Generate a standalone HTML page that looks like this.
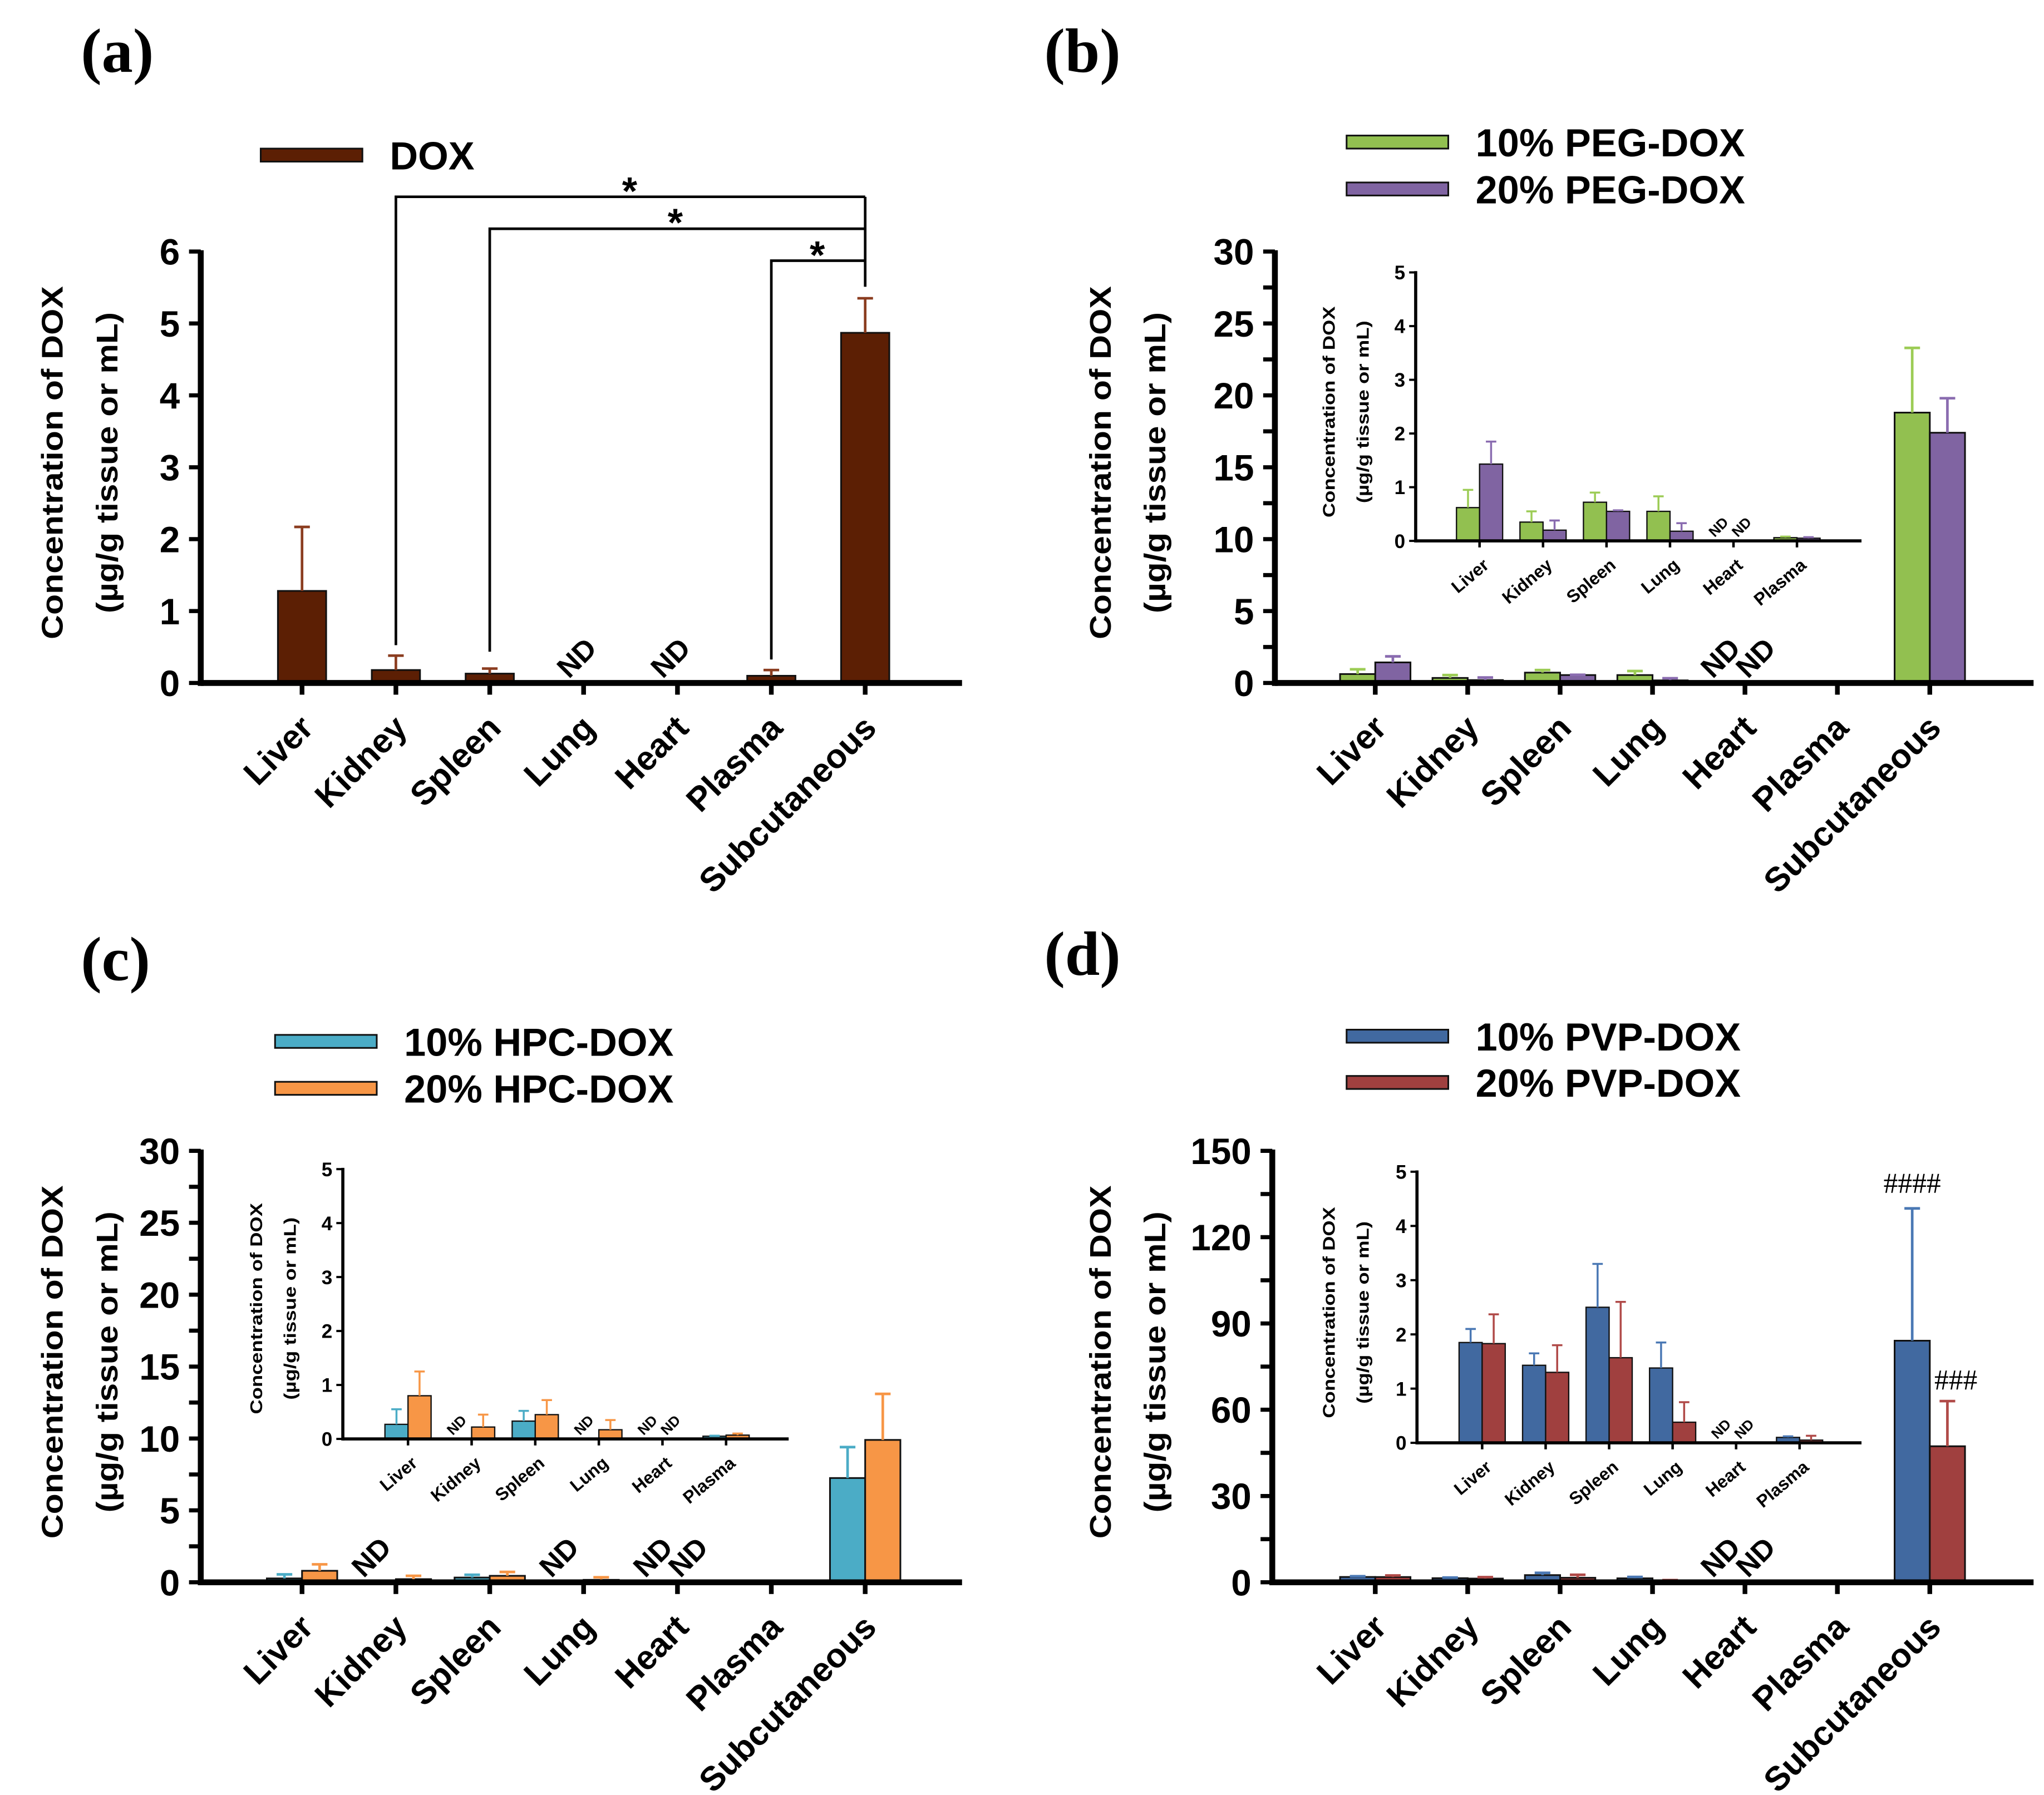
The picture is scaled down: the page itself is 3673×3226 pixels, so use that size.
<!DOCTYPE html>
<html><head><meta charset="utf-8"><style>
html,body{margin:0;padding:0;background:#fff;}
svg{display:block;}
</style></head><body>
<svg id="fig" xmlns="http://www.w3.org/2000/svg" width="3673" height="3226" viewBox="0 0 1568 1377.2" preserveAspectRatio="none" font-family="Liberation Sans, Arial, sans-serif"></svg>
<script>
// ---------- data ----------
const categories = ["Liver","Kidney","Spleen","Lung","Heart","Plasma","Subcutaneous"];
const insetCategories = ["Liver","Kidney","Spleen","Lung","Heart","Plasma"];
// panel a (DOX)
const doxMean = [1.28, 0.18, 0.13, null, null, 0.10, 4.87];
const doxErr  = [2.17, 0.38, 0.20, null, null, 0.18, 5.35];
// panel b (PEG)
const peg10Mean = [0.62, 0.35, 0.72, 0.55, null, 0.06, 18.8];
const peg10Err  = [0.95, 0.55, 0.90, 0.83, null, 0.08, 23.3];
const peg20Mean = [1.43, 0.20, 0.55, 0.18, null, 0.05, 17.4];
const peg20Err  = [1.85, 0.38, 0.57, 0.33, null, 0.07, 19.8];
// panel c (HPC)
const hpc10Mean = [0.27, null, 0.33, null, null, 0.05, 7.25];
const hpc10Err  = [0.55, null, 0.52, null, null, 0.06, 9.4];
const hpc20Mean = [0.80, 0.22, 0.45, 0.17, null, 0.07, 9.9];
const hpc20Err  = [1.25, 0.45, 0.72, 0.35, null, 0.10, 13.1];
// panel d (PVP)
const pvp10Mean = [1.85, 1.43, 2.50, 1.38, null, 0.10, 84];
const pvp10Err  = [2.10, 1.65, 3.30, 1.85, null, 0.12, 130];
const pvp20Mean = [1.83, 1.30, 1.57, 0.38, null, 0.05, 47.3];
const pvp20Err  = [2.37, 1.80, 2.60, 0.75, null, 0.13, 63];
const yTicksA = [0,1,2,3,4,5,6];
const yTicks30 = [0,5,10,15,20,25,30];
const yTicks150 = [0,30,60,90,120,150];
const yTicksInset = [0,1,2,3,4,5];

const NS="http://www.w3.org/2000/svg";
const svg=document.getElementById('fig');
function el(tag,attrs,parent,txt){const e=document.createElementNS(NS,tag);for(const k in attrs)e.setAttribute(k,attrs[k]);if(txt!==undefined)e.textContent=txt;(parent||svg).appendChild(e);return e;}

function drawChart(cfg){
  const g=el('g',{});
  
  
  const ymax=cfg.ticks[cfg.ticks.length-1];
  const yS=v=>cfg.y0-(v/ymax)*(cfg.y0-cfg.yTop);
  const xS=i=>cfg.x1+i*cfg.sp;
  const ns=cfg.series.length;
  cfg.series.forEach((s,si)=>{
    cfg.cats.forEach((c,i)=>{
      const v=s.mean[i]; if(v===null||v===undefined)return;
      const bx = ns===1 ? xS(i)-cfg.bw/2 : xS(i)+(si===0?-cfg.bw:0);
      const by=yS(v);
      const r=el('rect',{x:bx,y:by,width:cfg.bw,height:Math.max(cfg.y0-by,0.5),fill:s.color,stroke:'#111','stroke-width':cfg.inset?1:1.3},g);
      
      
      const e=s.err[i];
      if(e!==null&&e!==undefined){
        const cx=bx+cfg.bw/2, ey=yS(e);
        const eg=el('g',{stroke:s.ecolor,'stroke-width':cfg.inset?1.5:2},g);
        
        
        el('line',{x1:cx,x2:cx,y1:by,y2:ey},eg);
        el('line',{x1:cx-cfg.cap,x2:cx+cfg.cap,y1:ey,y2:ey},eg);
      }
    });
  });
  (cfg.nd||[]).forEach(([si,i])=>{
    const cx = ns===1 ? xS(i) : xS(i)+(si===0?-cfg.bw/2:cfg.bw/2);
    const t=el('text',{x:cx,y:cfg.y0-cfg.ndOff,'font-size':cfg.ndSize,'font-weight':'bold','text-anchor':'middle',transform:`rotate(-45 ${cx} ${cfg.y0-cfg.ndOff})`},g,'ND');
    
    
  });
  const aw=cfg.inset?2.4:4.5;
  const ya=el('line',{x1:cfg.ax0,x2:cfg.ax0,y1:cfg.yTop-1,y2:cfg.y0+aw/2,stroke:'#000','stroke-width':aw},g);
  
  
  const xa=el('line',{x1:cfg.ax0,x2:cfg.xEnd,y1:cfg.y0,y2:cfg.y0,stroke:'#000','stroke-width':aw},g);
  
  
  const tl=cfg.inset?5:9;
  cfg.ticks.forEach((v,k)=>{
    const y=yS(v);
    el('line',{x1:cfg.ax0-tl,x2:cfg.ax0,y1:y,y2:y,stroke:'#000','stroke-width':aw*0.7},g);
    const t=el('text',{x:cfg.ax0-(cfg.inset?8:16),y:y+cfg.tickSize*0.36,'font-size':cfg.tickSize,'font-weight':'bold','text-anchor':'end'},g,String(v));
    
    
    if(cfg.minor && k<cfg.ticks.length-1){
      const ym=yS((v+cfg.ticks[k+1])/2);
      el('line',{x1:cfg.ax0-tl,x2:cfg.ax0,y1:ym,y2:ym,stroke:'#000','stroke-width':aw*0.7},g);
    }
  });
  cfg.cats.forEach((c,i)=>{
    const x=xS(i);
    el('line',{x1:x,x2:x,y1:cfg.y0,y2:cfg.y0+tl,stroke:'#000','stroke-width':aw*0.8},g);
    const lx=x+cfg.lblDx, ly=cfg.y0+cfg.lblDy;
    const t=el('text',{x:lx,y:ly,'font-size':cfg.lblSize,'font-weight':'bold','text-anchor':'end',transform:`rotate(${cfg.lblRot} ${lx} ${ly})`},g,c);
    
    
  });
  const ty=cfg.titleY;
  const t1=el('text',{x:cfg.t1x,y:ty,'font-size':cfg.titleSize,'font-weight':'bold','text-anchor':'middle',transform:`rotate(-90 ${cfg.t1x} ${ty})`,textLength:cfg.t1len,lengthAdjust:'spacingAndGlyphs'},g,'Concentration of DOX');
  
  
  const t2=el('text',{x:cfg.t2x,y:ty,'font-size':cfg.titleSize,'font-weight':'bold','text-anchor':'middle',transform:`rotate(-90 ${cfg.t2x} ${ty})`,textLength:cfg.t2len,lengthAdjust:'spacingAndGlyphs'},g,'(µg/g tissue or mL)');
  
  
  return {xS,yS,g};
}
function mainCfg(o){return Object.assign({inset:false,cap:6,ndSize:22,ndOff:14,tickSize:28,lblSize:26,lblRot:-45,lblDx:10,lblDy:36,titleSize:23,t1len:271,t2len:231,cats:categories},o);}
function insetCfg(o){return Object.assign({inset:true,cap:4,ndSize:11,ndOff:8,tickSize:15,lblSize:13.5,lblRot:-40,lblDx:8,lblDy:20,titleSize:13,t1len:162,t2len:140,cats:insetCategories,bw:17.7,sp:48.7,ticks:yTicksInset},o);}
function sl(a){return a.slice(0,6);}
function panelLabel(txt,x,y,name){const t=el('text',{x:x,y:y,'font-size':48,'font-family':'Liberation Serif, serif','font-weight':'bold'},svg,txt);}
function legend(items,x,y0,dy,name){
  const g=el('g',{});
  items.forEach((it,i)=>{
    const y=y0+i*dy;
    const r=el('rect',{x:x,y:y,width:78,height:10,fill:it.color,stroke:'#111','stroke-width':1.3},g);
    
    
    const t=el('text',{x:x+99,y:y+16,'font-size':30,'font-weight':'bold'},g,it.label);
    
    
  });
}

// ---------- panel a ----------
panelLabel('(a)',62,55,'panel-label-a');
legend([{color:'#5c1f04',label:'DOX'}],200,114,0,'legend-a');
const A=drawChart(mainCfg({name:'chart-a',ax0:154,xEnd:738,y0:524,yTop:193,ticks:yTicksA,minor:false,x1:231.7,sp:72,bw:37,
  series:[{key:'dox',mean:doxMean,err:doxErr,color:'#5c1f04',ecolor:'#8b3d20'}],nd:[[0,3],[0,4]],
  t1x:48,t2x:90,titleY:355}));
const sig=el('g',{stroke:'#000','stroke-width':2,fill:'none'});


[[1,151,495],[2,175.5,500],[5,200,506]].forEach(([i,y,yb])=>{
  el('polyline',{points:`${A.xS(i)},${yb} ${A.xS(i)},${y} ${A.xS(6)},${y}`},sig);
});
el('line',{x1:A.xS(6),x2:A.xS(6),y1:151,y2:220},sig);
[[483,157],[518,181],[627,206]].forEach(([x,y])=>{const t=el('text',{x:x,y:y,'font-size':30,'font-weight':'bold','text-anchor':'middle'},svg,'*');});

// ---------- panel b ----------
panelLabel('(b)',801,55,'panel-label-b');
legend([{color:'#92c050',label:'10% PEG-DOX'},{color:'#8064a2',label:'20% PEG-DOX'}],1033,104,36,'legend-b');
drawChart(mainCfg({name:'chart-b',ax0:978,xEnd:1560,y0:524,yTop:193,ticks:yTicks30,minor:true,x1:1055,sp:70.9,bw:27,
  series:[{key:'peg10',mean:peg10Mean,err:peg10Err,color:'#92c050',ecolor:'#9ccc55'},{key:'peg20',mean:peg20Mean,err:peg20Err,color:'#8064a2',ecolor:'#8a6cb0'}],
  nd:[[0,4],[1,4]],t1x:852,t2x:894,titleY:355}));
drawChart(insetCfg({name:'inset-b',ax0:1086,xEnd:1428,y0:415,yTop:209,x1:1135,
  series:[{key:'peg10',mean:sl(peg10Mean),err:sl(peg10Err),color:'#92c050',ecolor:'#9ccc55'},{key:'peg20',mean:sl(peg20Mean),err:sl(peg20Err),color:'#8064a2',ecolor:'#8a6cb0'}],
  nd:[[0,4],[1,4]],t1x:1024,t2x:1050,titleY:316}));

// ---------- panel c ----------
panelLabel('(c)',62,752,'panel-label-c');
legend([{color:'#4bacc6',label:'10% HPC-DOX'},{color:'#f79646',label:'20% HPC-DOX'}],211,794,36,'legend-c');
drawChart(mainCfg({name:'chart-c',ax0:154,xEnd:738,y0:1214,yTop:883,ticks:yTicks30,minor:true,x1:231.7,sp:72,bw:27,
  series:[{key:'hpc10',mean:hpc10Mean,err:hpc10Err,color:'#4bacc6',ecolor:'#4bacc6'},{key:'hpc20',mean:hpc20Mean,err:hpc20Err,color:'#f79646',ecolor:'#f79646'}],
  nd:[[0,1],[0,3],[0,4],[1,4]],t1x:48,t2x:90,titleY:1045}));
drawChart(insetCfg({name:'inset-c',ax0:263,xEnd:605,y0:1104,yTop:897,x1:313,sp:48.8,
  series:[{key:'hpc10',mean:sl(hpc10Mean),err:sl(hpc10Err),color:'#4bacc6',ecolor:'#4bacc6'},{key:'hpc20',mean:sl(hpc20Mean),err:sl(hpc20Err),color:'#f79646',ecolor:'#f79646'}],
  nd:[[0,1],[0,3],[0,4],[1,4]],t1x:201,t2x:227,titleY:1004}));

// ---------- panel d ----------
panelLabel('(d)',801,748,'panel-label-d');
legend([{color:'#4169a0',label:'10% PVP-DOX'},{color:'#a0403f',label:'20% PVP-DOX'}],1033,790,35.5,'legend-d');
const D=drawChart(mainCfg({name:'chart-d',ax0:976,xEnd:1560,y0:1214,yTop:883,ticks:yTicks150,minor:true,x1:1055,sp:70.9,bw:27,
  series:[{key:'pvp10',mean:pvp10Mean,err:pvp10Err,color:'#4169a0',ecolor:'#4a78b4'},{key:'pvp20',mean:pvp20Mean,err:pvp20Err,color:'#a0403f',ecolor:'#b04a48'}],
  nd:[[0,4],[1,4]],t1x:852,t2x:894,titleY:1045}));
drawChart(insetCfg({name:'inset-d',ax0:1087,xEnd:1428,y0:1107,yTop:899,x1:1137,
  series:[{key:'pvp10',mean:sl(pvp10Mean),err:sl(pvp10Err),color:'#4169a0',ecolor:'#4a78b4'},{key:'pvp20',mean:sl(pvp20Mean),err:sl(pvp20Err),color:'#a0403f',ecolor:'#b04a48'}],
  nd:[[0,4],[1,4]],t1x:1024,t2x:1050,titleY:1007}));
const h4=el('text',{x:D.xS(6)-13.5,y:D.yS(pvp10Err[6])-12,'font-size':22,'font-family':'Liberation Serif, serif','text-anchor':'middle'},svg,'####');


const h3=el('text',{x:D.xS(6)+20,y:D.yS(pvp20Err[6])-9,'font-size':22,'font-family':'Liberation Serif, serif','text-anchor':'middle'},svg,'###');


</script>
</body></html>
